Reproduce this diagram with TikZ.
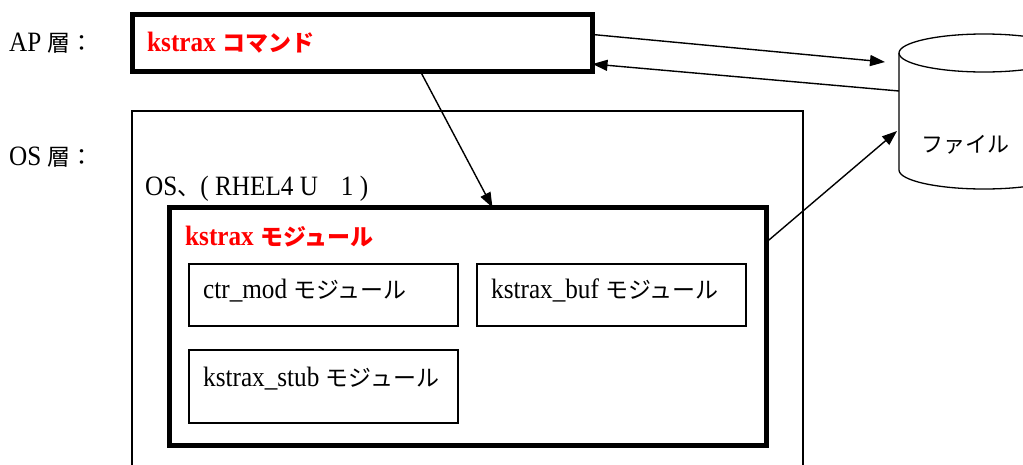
\documentclass[tikz,border=0pt]{standalone}
\usepackage{fontspec}
\setmainfont{Liberation Serif}[FakeStretch=0.9]
\newfontfamily\jp{Noto Sans CJK JP}
\newcommand\J[1]{{\jp\fontsize{23}{25}\selectfont #1}}
\newcommand\JB[1]{{\jp\bfseries\fontsize{23}{25}\selectfont #1}}
\usetikzlibrary{arrows.meta,calc}
\begin{document}
\begin{tikzpicture}[x=1pt,y=-1pt,
  thickbox/.style={draw,line width=5pt,inner sep=0pt,outer sep=0pt,anchor=north west},
  thinbox/.style={draw,line width=1.3pt,inner sep=0pt,outer sep=0pt,anchor=north west},
  lbl/.style={anchor=base west,inner sep=0pt,font=\fontsize{28}{30}\selectfont},
  redlbl/.style={lbl,text=red,font=\fontsize{28}{30}\selectfont\bfseries},
  conn/.style={line width=1.4pt,-{Triangle[length=15pt,width=11pt]}}]
\useasboundingbox (0,0) rectangle (1023,464);
% labels of layers
\node[lbl] (aplbl) at (9,51) {AP \J{層：}};
\node[lbl] (oslbl) at (9,165) {OS \J{層：}};
% AP box
\node[thickbox,minimum width=460pt,minimum height=57pt] (ap) at (132.5,14.5) {};
\node[redlbl] (aptxt) at (147,51) {kstrax \JB{コマンド}};
% OS box
\node[thinbox,minimum width=671pt,minimum height=370pt] (os) at (132,111) {};
\node[lbl] (ostxt) at (145,195) {OS\J{、}( RHEL4 U\J{　}1 )};
% kstrax module
\node[thickbox,minimum width=597pt,minimum height=238pt] (km) at (169,207.5) {};
\node[redlbl] (kmtxt) at (185,245) {kstrax \JB{モジュール}};
% sub modules
\node[thinbox,minimum width=269pt,minimum height=62pt] (ctr) at (189,264) {};
\node[lbl] (ctrtxt) at (203,298) {ctr\_mod \J{モジュール}};
\node[thinbox,minimum width=269pt,minimum height=62pt] (buf) at (477,264) {};
\node[lbl] (buftxt) at (491,298) {kstrax\_buf \J{モジュール}};
\node[thinbox,minimum width=269pt,minimum height=73pt] (stub) at (189,350) {};
\node[lbl] (stubtxt) at (203,386) {kstrax\_stub \J{モジュール}};
% file cylinder
\draw[line width=1.3pt] (899,53) -- (899,170) arc[start angle=180,end angle=360,x radius=85pt,y radius=19pt] -- (1069,53);
\draw[line width=1.3pt] (984,53) ellipse[x radius=85pt,y radius=19pt];
\node[anchor=center,inner sep=0pt] (file) at (965,145) {{\jp\fontsize{22}{24}\selectfont ファイル}};
\coordinate (fin) at (885,62);
\coordinate (fout) at (899,91);
\coordinate (fin2) at (897,131);
% connectors
\draw[conn] ([yshift=8.5pt]ap.east) -- (fin);
\draw[conn] (fout) -- ([yshift=-21pt]ap.east);
\draw[conn] ([xshift=58pt]ap.south) -- ([xshift=25pt]km.north);
\draw[conn] ([yshift=84pt]km.east) -- (fin2);
\end{tikzpicture}
\end{document}
